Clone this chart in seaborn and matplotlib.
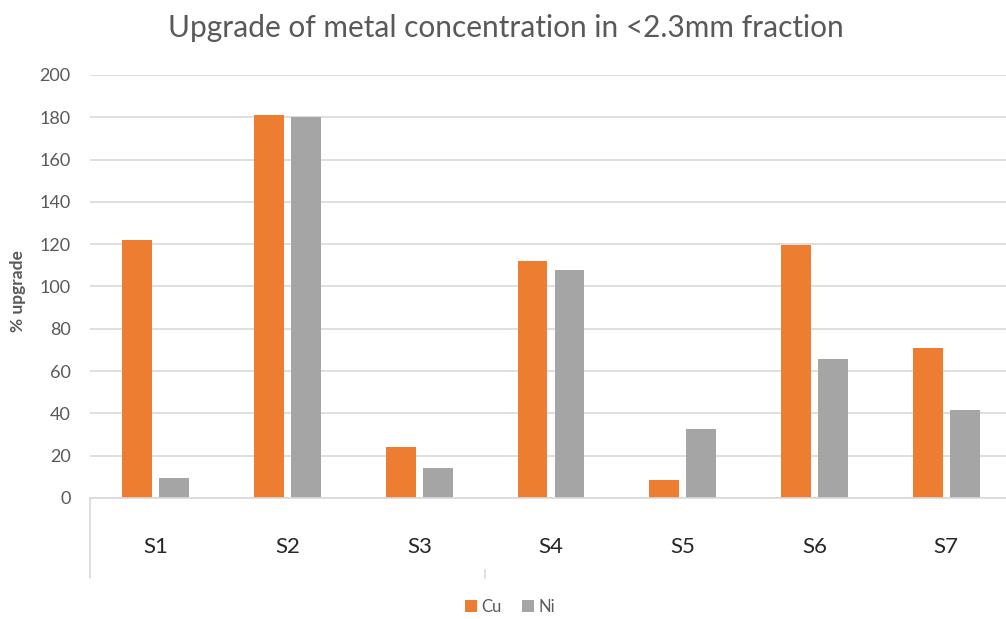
# % upgrade of Cu and Ni in the <2.3mm fraction, per sample

import matplotlib
matplotlib.use("Agg")
import matplotlib.pyplot as plt
import seaborn as sns
import pandas as pd

samples = ["S1", "S2", "S3", "S4", "S5", "S6", "S7"]
cu_upgrade = [122, 181, 24.3, 112, 8.5, 119.7, 70.8]
ni_upgrade = [9.3, 180.3, 14.3, 108, 32.5, 65.7, 41.6]
yticks = [0, 20, 40, 60, 80, 100, 120, 140, 160, 180, 200]

df = pd.DataFrame({
    "sample": samples * 2,
    "metal": ["Cu"] * len(samples) + ["Ni"] * len(samples),
    "upgrade": cu_upgrade + ni_upgrade,
})

sns.set_style("white")
plt.rcParams["font.family"] = ["Lato", "DejaVu Sans"]

grid_col = "#D9D9D9"
text_col = "#595959"

fig = plt.figure(figsize=(10.06, 6.19), dpi=100)
ax = fig.add_axes([90 / 1006, 121 / 619, 922 / 1006, 423 / 619])

sns.barplot(
    data=df, x="sample", y="upgrade", hue="metal", ax=ax,
    palette={"Cu": "#ED7D31", "Ni": "#A5A5A5"},
    width=0.56, gap=0.19, linewidth=0, saturation=1,
)

ax.set_xlim(-0.5, 6.5)
ax.set_ylim(0, 200)
ax.set_yticks(yticks)
ax.yaxis.grid(True, color=grid_col, linewidth=1.2)
ax.set_axisbelow(True)
for s in ["top", "right", "left"]:
    ax.spines[s].set_visible(False)
ax.spines["bottom"].set_color(grid_col)
ax.spines["bottom"].set_linewidth(1.2)

ax.tick_params(axis="y", length=0, pad=14, labelsize=13, labelcolor=text_col)
ax.tick_params(axis="x", which="major", length=0, pad=28, labelsize=16, labelcolor="#262626")
ax.set_xticks([i - 0.5 for i in range(8)], minor=True)
ax.tick_params(axis="x", which="minor", length=5, color=grid_col, width=1.2)
ax.set_xlabel("")
ax.set_ylabel("% upgrade", fontsize=12.5, color=text_col, fontweight="bold")
ax.yaxis.set_label_coords(-64 / 922, 0.49)

# category box lines below the axis
trans = ax.get_xaxis_transform()
ax.plot([-0.5, -0.5], [0, -80 / 423], transform=trans, color=grid_col, lw=1.2, clip_on=False)
ax.plot([2.5, 2.5], [-72 / 423, -80 / 423], transform=trans, color=grid_col, lw=1.2, clip_on=False)

fig.suptitle("Upgrade of metal concentration in <2.3mm fraction",
             x=506 / 1006, y=1 - 28 / 619, va="center", fontsize=21.5, color=text_col)

handles, labels = ax.get_legend_handles_labels()
ax.legend_.remove()
fig.legend(handles, labels, loc="center", bbox_to_anchor=(510 / 1006, 1 - 607 / 619),
           ncol=2, frameon=False, fontsize=12, labelcolor=text_col,
           handlelength=0.7, handleheight=0.7, handletextpad=0.3, columnspacing=1.2)

plt.savefig("out.png", dpi=100)
